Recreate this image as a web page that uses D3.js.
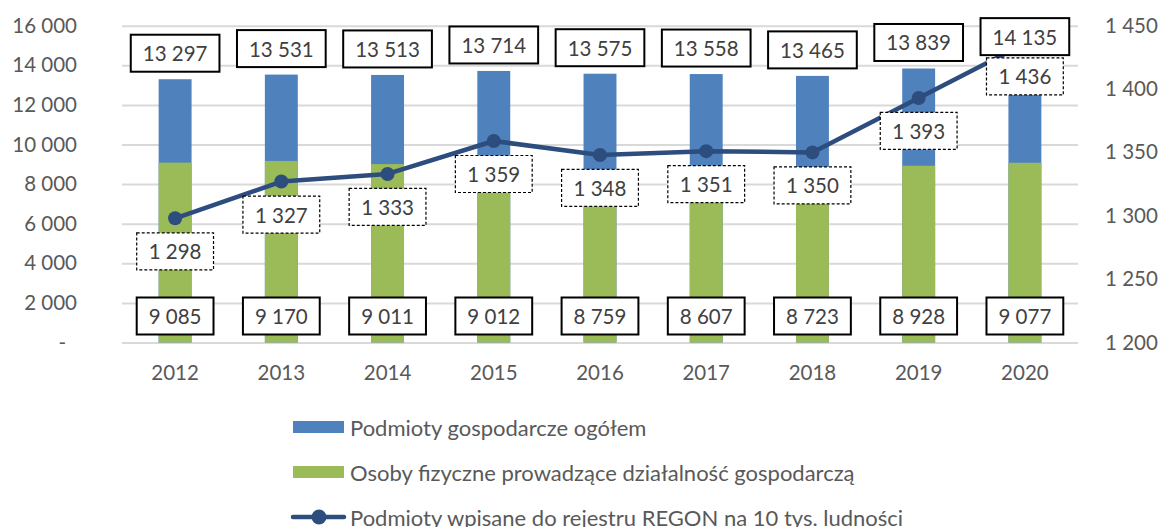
<!DOCTYPE html>
<html><head><meta charset="utf-8">
<script src="https://cdn.jsdelivr.net/npm/d3@7"></script>
<style>
body{margin:0;background:#fff;}
svg{display:block;font-family:Lato, "Open Sans", sans-serif;}
</style></head>
<body><svg id="c" width="1161" height="527"></svg>
<script>
const years = ["2012","2013","2014","2015","2016","2017","2018","2019","2020"];
const totalEntities = [13297,13531,13513,13714,13575,13558,13465,13839,14135];
const naturalPersons = [9085,9170,9011,9012,8759,8607,8723,8928,9077];
const regonPer10k = [1298,1327,1333,1359,1348,1351,1350,1393,1436];
const leftTicks = [0,2000,4000,6000,8000,10000,12000,14000,16000];
const rightTicks = [1200,1250,1300,1350,1400,1450];
const seriesNames = ["Podmioty gospodarcze ogółem","Osoby fizyczne prowadzące działalność gospodarczą","Podmioty wpisane do rejestru REGON na 10 tys. ludności"];

const C_BLUE="#4F81BD", C_GREEN="#9BBB59", C_LINE="#2C4D7D", C_GRID="#D9D9D9", C_TXT="#595959", C_LBL="#404040";
const FS=20.5, FSL=22;
const svg=d3.select("#c");
const L=122,R=1078,T=25.7,B=342.5;
const loc=d3.formatLocale({decimal:",",thousands:"\u00a0",grouping:[3],currency:["",""]});
const fmt=v=>loc.format(",")(v);

const x=d3.scaleBand().domain(years).range([L,R]).paddingInner(0.69).paddingOuter(0.345);
const y=d3.scaleLinear().domain([0,16000]).range([B,T]);
const y2=d3.scaleLinear().domain([1200,1450]).range([B,T]);

// grid
const grid=svg.append("g").attr("transform",`translate(${L},0)`)
  .call(d3.axisLeft(y).tickValues(leftTicks).tickSize(-(R-L)).tickFormat(""));
grid.select(".domain").remove();
grid.selectAll("line").attr("stroke",C_GRID).attr("stroke-width",2);

// left axis
const ax=svg.append("g").attr("transform",`translate(77,0)`)
  .call(d3.axisLeft(y).tickValues(leftTicks).tickSize(0).tickPadding(0).tickFormat(v=>v===0?"-":fmt(v)));
ax.select(".domain").remove();
ax.selectAll("text").attr("font-size",FS).attr("fill",C_TXT).attr("font-family","Lato");
ax.selectAll("text").filter(d=>d===0).attr("dx",-11);

// right axis
const ax2=svg.append("g").attr("transform",`translate(1105,0)`)
  .call(d3.axisRight(y2).tickValues(rightTicks).tickSize(0).tickPadding(0).tickFormat(fmt));
ax2.select(".domain").remove();
ax2.selectAll("text").attr("font-size",FS).attr("fill",C_TXT).attr("font-family","Lato");

// x axis labels
const axx=svg.append("g").attr("transform",`translate(0,${B})`)
  .call(d3.axisBottom(x).tickSize(0).tickPadding(23));
axx.select(".domain").remove();
axx.selectAll("text").attr("font-size",FS).attr("fill",C_TXT).attr("font-family","Lato");

// bars
svg.append("g").selectAll("rect").data(years).join("rect")
  .attr("x",d=>x(d)).attr("width",x.bandwidth())
  .attr("y",(d,i)=>y(totalEntities[i])).attr("height",(d,i)=>B-y(totalEntities[i]))
  .attr("fill",C_BLUE);
svg.append("g").selectAll("rect").data(years).join("rect")
  .attr("x",d=>x(d)).attr("width",x.bandwidth())
  .attr("y",(d,i)=>y(naturalPersons[i])).attr("height",(d,i)=>B-y(naturalPersons[i]))
  .attr("fill",C_GREEN);

// line
const cx=d=>x(d)+x.bandwidth()/2;
const line=d3.line().x((d,i)=>cx(years[i])).y(d=>y2(d));
svg.append("path").datum(regonPer10k).attr("d",line).attr("fill","none")
  .attr("stroke",C_LINE).attr("stroke-width",4.5).attr("stroke-linejoin","round");
svg.append("g").selectAll("circle").data(regonPer10k).join("circle")
  .attr("cx",(d,i)=>cx(years[i])).attr("cy",d=>y2(d)).attr("r",7).attr("fill",C_LINE);

// labels
function label(cxv,cyv,txt,dashed){
  const g=svg.append("g");
  const r=g.append("rect");
  const t=g.append("text").attr("x",cxv).attr("y",cyv).attr("text-anchor","middle")
    .attr("dominant-baseline","central").attr("font-size",FS).attr("fill",C_LBL).text(txt);
  const w=t.node().getComputedTextLength()+24, h=37;
  r.attr("x",cxv-w/2).attr("y",cyv-h/2).attr("width",w).attr("height",h)
   .attr("fill","#fff").attr("stroke","#000")
   .attr("stroke-width",dashed?1.2:2).attr("stroke-dasharray",dashed?"3,2":null);
}
years.forEach((yr,i)=>label(cx(yr),y(totalEntities[i])-26,fmt(totalEntities[i]),false));
years.forEach((yr,i)=>label(cx(yr),y2(regonPer10k[i])+33,fmt(regonPer10k[i]),true));
years.forEach((yr,i)=>label(cx(yr),316,fmt(naturalPersons[i]),false));

// legend
const lg=svg.append("g");
const rows=[427,472,517];
lg.append("rect").attr("x",293).attr("y",rows[0]-6).attr("width",51).attr("height",12).attr("fill",C_BLUE);
lg.append("rect").attr("x",293).attr("y",rows[1]-6).attr("width",51).attr("height",12).attr("fill",C_GREEN);
lg.append("line").attr("x1",293).attr("x2",344).attr("y1",rows[2]).attr("y2",rows[2]).attr("stroke",C_LINE).attr("stroke-width",4.5).attr("stroke-linecap","round");
lg.append("circle").attr("cx",319).attr("cy",rows[2]).attr("r",7.5).attr("fill",C_LINE);
seriesNames.forEach((n,i)=>lg.append("text").attr("x",350).attr("y",rows[i]).attr("dominant-baseline","central")
  .attr("font-size",FSL).attr("fill",C_TXT).text(n));
</script></body></html>
